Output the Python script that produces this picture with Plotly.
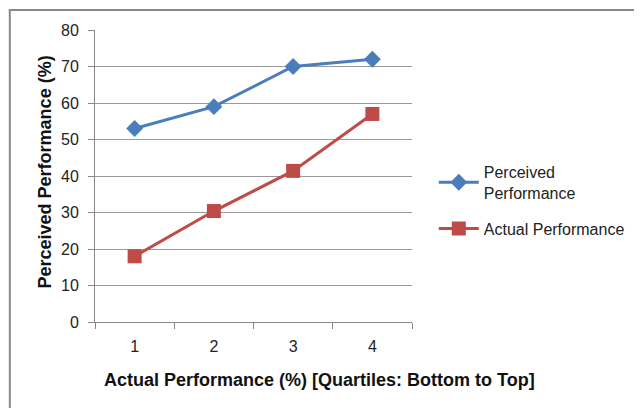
import plotly.graph_objects as go

categories = ["1", "2", "3", "4"]
perceived = [53, 59, 70, 72]
actual = [18, 30.4, 41.4, 57]
y_ticks = [0, 10, 20, 30, 40, 50, 60, 70, 80]

FONT = "Liberation Sans, Arial, sans-serif"
BLUE = "#4A7EBB"
RED = "#BE4B48"

fig = go.Figure()
fig.add_trace(go.Scatter(
    x=categories, y=perceived, mode="lines+markers",
    name="Perceived<br>Performance", legendgroup="p",
    line=dict(color=BLUE, width=3),
    marker=dict(symbol="diamond", size=13, color=BLUE),
))
fig.add_trace(go.Scatter(
    x=categories, y=actual, mode="lines+markers",
    name="Actual Performance", legendgroup="a",
    line=dict(color=RED, width=3),
    marker=dict(symbol="square", size=14, color=RED),
))

OFF = 8  # page body margin
W, H = 642 - OFF, 408 - OFF
L = 95 - OFF
T = 30 - OFF
B = H - (322 - OFF)
R = W - (415 - OFF)
pw, ph = W - L - R, H - T - B

def px_x(x):
    return (x - OFF - L) / pw

def px_y(y):
    return (H - B - (y - OFF)) / ph

fig.update_layout(
    width=W, height=H,
    margin=dict(l=L, r=R, t=T, b=B),
    paper_bgcolor="white", plot_bgcolor="white",
    font=dict(family=FONT, size=16, color="#222"),
    showlegend=True,
    legend=dict(x=px_x(437), y=px_y(155), xanchor="left", yanchor="top",
                font=dict(family=FONT, size=16, color="#222"),
                tracegroupgap=12, itemwidth=40, bgcolor="rgba(0,0,0,0)"),
    xaxis=dict(
        type="category", range=[-0.5, 3.5],
        showline=True, linecolor="#888", linewidth=1,
        ticks="outside", ticklen=6, tickcolor="#888",
        tickson="boundaries", showgrid=False,
        ticklabelstandoff=10,
        tickfont=dict(family=FONT, size=16, color="#222"),
    ),
    yaxis=dict(
        range=[0, 80], tickvals=y_ticks,
        showline=True, linecolor="#888", linewidth=1,
        ticks="outside", ticklen=6, tickcolor="#888",
        showgrid=True, gridcolor="#999", gridwidth=1,
        zeroline=False, ticklabelstandoff=6,
        tickfont=dict(family=FONT, size=16, color="#222"),
    ),
    shapes=[
        dict(type="line", xref="paper", yref="paper",
             x0=px_x(8), x1=px_x(650), y0=px_y(10), y1=px_y(10),
             line=dict(color="#888", width=2)),
        dict(type="line", xref="paper", yref="paper",
             x0=px_x(9), x1=px_x(9), y0=px_y(10), y1=px_y(420),
             line=dict(color="#888", width=2)),
    ],
    annotations=[
        dict(text="<b>Actual Performance (%) [Quartiles: Bottom to Top]</b>",
             xref="paper", yref="paper", x=px_x(322), y=px_y(380),
             showarrow=False, xanchor="center", yanchor="middle",
             font=dict(family=FONT, size=18, color="#111")),
        dict(text="<b>Perceived Performance (%)</b>",
             xref="paper", yref="paper", x=px_x(45), y=px_y(172),
             showarrow=False, xanchor="center", yanchor="middle", textangle=-90,
             font=dict(family=FONT, size=18, color="#111")),
    ],
)

fig.write_html("out.html")
